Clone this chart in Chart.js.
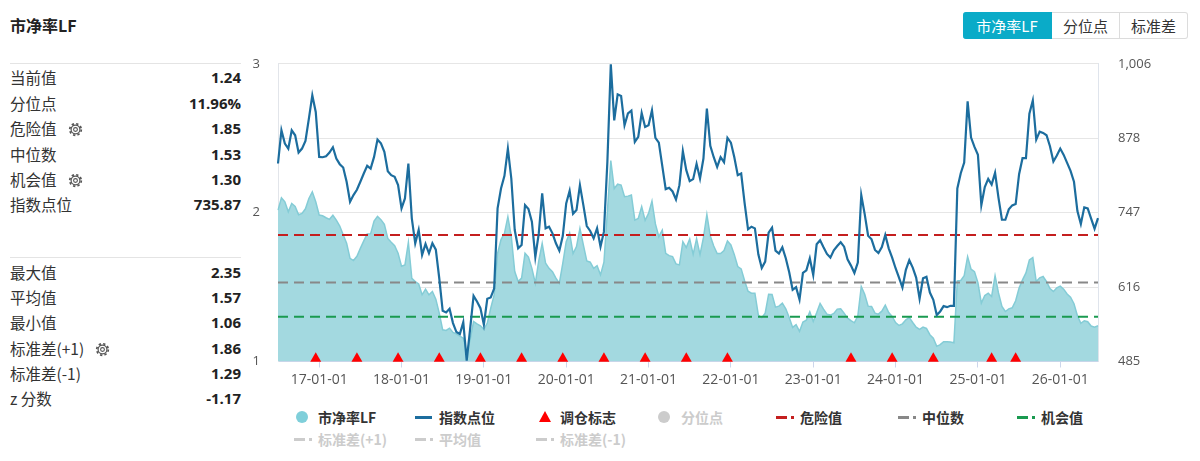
<!DOCTYPE html>
<html>
<head>
<meta charset="utf-8">
<script src="https://cdn.jsdelivr.net/npm/chart.js@4.4.1/dist/chart.umd.min.js"></script>
<style>
html,body{margin:0;padding:0;background:#fff;}
body{width:1200px;height:461px;position:relative;overflow:hidden;font-family:"Noto Sans CJK SC","Noto Sans",sans-serif;color:#333;}
#title{position:absolute;left:10px;top:12px;font-size:16px;font-weight:bold;color:#222;line-height:26px;}
.sep{position:absolute;left:10px;width:231px;height:0;border-top:1.5px solid #e4e4e4;}
.row{position:absolute;left:10px;width:231px;height:22px;line-height:22px;font-size:15.5px;}
.row .lab{position:absolute;left:0;top:0;white-space:nowrap;color:#333;}
.row .val{position:absolute;right:0;top:0;font-weight:bold;color:#222;font-family:"Open Sans","Noto Sans",sans-serif;font-size:15px;}
.gear{display:inline-block;vertical-align:-2px;margin-left:11px;}
#btns{position:absolute;left:963px;top:12px;height:27px;display:flex;}
#btns div{height:25px;line-height:25px;font-size:15px;text-align:center;border:1px solid #dcdcdc;border-left:none;color:#333;}
#btns div.on{background:#0aabc8;color:#fff;border-color:#0aabc8;border-radius:3px 0 0 3px;}
#btns div.last{border-radius:0 3px 3px 0;}
#c{position:absolute;left:240px;top:36px;}
.li{position:absolute;display:block;}
.lt{position:absolute;font-size:14px;font-weight:bold;color:#333;line-height:20px;white-space:nowrap;}
.grey{color:#cccccc;}
</style>
</head>
<body>
<div id="title">市净率LF</div>
<div id="panel"></div>
<div id="btns"><div class="on" style="width:88px">市净率LF</div><div style="width:67px">分位点</div><div class="last" style="width:67px">标准差</div></div>
<canvas id="c" width="940" height="364"></canvas>

<!-- legend row 1 -->
<span class="li" style="left:296px;top:411px;width:12px;height:12px;border-radius:50%;background:#7fcfda"></span>
<span class="lt" style="left:318px;top:407px">市净率LF</span>
<span class="li" style="left:415px;top:416px;width:17px;height:3px;background:#1c6d9e"></span>
<span class="lt" style="left:439px;top:407px">指数点位</span>
<span class="li" style="left:539px;top:411px;width:0;height:0;border-left:6px solid transparent;border-right:6px solid transparent;border-bottom:11px solid #f00"></span>
<span class="lt" style="left:560px;top:407px">调仓标志</span>
<span class="li" style="left:658px;top:411px;width:12px;height:12px;border-radius:50%;background:#cccccc"></span>
<span class="lt grey" style="left:681px;top:407px">分位点</span>
<span class="li" style="left:776px;top:416px;width:11px;height:2.5px;background:#c41f1f"></span>
<span class="li" style="left:791px;top:416px;width:3px;height:2.5px;background:#c41f1f"></span>
<span class="lt" style="left:800px;top:407px">危险值</span>
<span class="li" style="left:898px;top:416px;width:11px;height:2.5px;background:#888"></span>
<span class="li" style="left:913px;top:416px;width:3px;height:2.5px;background:#888"></span>
<span class="lt" style="left:922px;top:407px">中位数</span>
<span class="li" style="left:1017px;top:416px;width:11px;height:2.5px;background:#1a9a50"></span>
<span class="li" style="left:1032px;top:416px;width:3px;height:2.5px;background:#1a9a50"></span>
<span class="lt" style="left:1041px;top:407px">机会值</span>
<!-- legend row 2 -->
<span class="li" style="left:294px;top:438px;width:11px;height:2.5px;background:#ccc"></span>
<span class="li" style="left:309px;top:438px;width:3px;height:2.5px;background:#ccc"></span>
<span class="lt grey" style="left:318px;top:429px">标准差(+1)</span>
<span class="li" style="left:415px;top:438px;width:11px;height:2.5px;background:#ccc"></span>
<span class="li" style="left:430px;top:438px;width:3px;height:2.5px;background:#ccc"></span>
<span class="lt grey" style="left:439px;top:429px">平均值</span>
<span class="li" style="left:536px;top:438px;width:11px;height:2.5px;background:#ccc"></span>
<span class="li" style="left:551px;top:438px;width:3px;height:2.5px;background:#ccc"></span>
<span class="lt grey" style="left:560px;top:429px">标准差(-1)</span>

<script>
// ---------- DATA ----------
const dates = [
'2016-07-01','2016-07-16','2016-08-01','2016-08-16','2016-09-01','2016-09-16','2016-10-01','2016-10-16','2016-11-01','2016-11-16','2016-12-01','2016-12-16',
'2017-01-01','2017-01-16','2017-02-01','2017-02-16','2017-03-01','2017-03-16','2017-04-01','2017-04-16','2017-05-01','2017-05-16','2017-06-01','2017-06-16',
'2017-07-01','2017-07-16','2017-08-01','2017-08-16','2017-09-01','2017-09-16','2017-10-01','2017-10-16','2017-11-01','2017-11-16','2017-12-01','2017-12-16',
'2018-01-01','2018-01-16','2018-02-01','2018-02-16','2018-03-01','2018-03-16','2018-04-01','2018-04-16','2018-05-01','2018-05-16','2018-06-01','2018-06-16',
'2018-07-01','2018-07-16','2018-08-01','2018-08-16','2018-09-01','2018-09-16','2018-10-01','2018-10-16','2018-11-01','2018-11-16','2018-12-01','2018-12-16',
'2019-01-01','2019-01-16','2019-02-01','2019-02-16','2019-03-01','2019-03-16','2019-04-01','2019-04-16','2019-05-01','2019-05-16','2019-06-01','2019-06-16',
'2019-07-01','2019-07-16','2019-08-01','2019-08-16','2019-09-01','2019-09-16','2019-10-01','2019-10-16','2019-11-01','2019-11-16','2019-12-01','2019-12-16',
'2020-01-01','2020-01-16','2020-02-01','2020-02-16','2020-03-01','2020-03-16','2020-04-01','2020-04-16','2020-05-01','2020-05-16','2020-06-01','2020-06-16',
'2020-07-01','2020-07-16','2020-08-01','2020-08-16','2020-09-01','2020-09-16','2020-10-01','2020-10-16','2020-11-01','2020-11-16','2020-12-01','2020-12-16',
'2021-01-01','2021-01-16','2021-02-01','2021-02-16','2021-03-01','2021-03-16','2021-04-01','2021-04-16','2021-05-01','2021-05-16','2021-06-01','2021-06-16',
'2021-07-01','2021-07-16','2021-08-01','2021-08-16','2021-09-01','2021-09-16','2021-10-01','2021-10-16','2021-11-01','2021-11-16','2021-12-01','2021-12-16',
'2022-01-01','2022-01-16','2022-02-01','2022-02-16','2022-03-01','2022-03-16','2022-04-01','2022-04-16','2022-05-01','2022-05-16','2022-06-01','2022-06-16',
'2022-07-01','2022-07-16','2022-08-01','2022-08-16','2022-09-01','2022-09-16','2022-10-01','2022-10-16','2022-11-01','2022-11-16','2022-12-01','2022-12-16',
'2023-01-01','2023-01-16','2023-02-01','2023-02-16','2023-03-01','2023-03-16','2023-04-01','2023-04-16','2023-05-01','2023-05-16','2023-06-01','2023-06-16',
'2023-07-01','2023-07-16','2023-08-01','2023-08-16','2023-09-01','2023-09-16','2023-10-01','2023-10-16','2023-11-01','2023-11-16','2023-12-01','2023-12-16',
'2024-01-01','2024-01-16','2024-02-01','2024-02-16','2024-03-01','2024-03-16','2024-04-01','2024-04-16','2024-05-01','2024-05-16','2024-06-01','2024-06-16',
'2024-07-01','2024-07-16','2024-08-01','2024-08-16','2024-09-01','2024-09-16','2024-10-01','2024-10-16','2024-11-01','2024-11-16','2024-12-01','2024-12-16',
'2025-01-01','2025-01-16','2025-02-01','2025-02-16','2025-03-01','2025-03-16','2025-04-01','2025-04-16','2025-05-01','2025-05-16','2025-06-01','2025-06-16',
'2025-07-01','2025-07-16','2025-08-01','2025-08-16','2025-09-01','2025-09-16','2025-10-01','2025-10-16','2025-11-01','2025-11-16','2025-12-01','2025-12-16',
'2026-01-01','2026-01-16','2026-02-01','2026-02-16','2026-03-01','2026-03-16','2026-04-01','2026-04-16','2026-05-01','2026-05-16','2026-06-01','2026-06-16'
];

// 市净率LF (left axis)
const pbValues = [
2.017,2.100,2.073,2.006,2.062,2.042,1.986,1.995,2.026,2.095,2.140,2.073,
1.984,1.979,1.966,1.955,1.982,1.950,1.910,1.852,1.794,1.693,1.678,1.707,
1.760,1.810,1.857,1.859,1.944,1.975,1.953,1.921,1.827,1.801,1.778,1.727,
1.640,1.649,1.801,1.559,1.537,1.521,1.448,1.486,1.448,1.470,1.419,1.325,
1.213,1.209,1.224,1.195,1.186,1.171,1.157,1.060,1.146,1.269,1.253,1.240,
1.216,1.258,1.358,1.448,1.727,1.819,1.861,1.973,1.839,1.604,1.537,1.560,
1.727,1.702,1.626,1.526,1.676,1.794,1.660,1.626,1.604,1.560,1.526,1.660,
1.805,1.863,1.725,1.772,1.894,1.783,1.676,1.667,1.626,1.644,1.582,1.667,
2.006,2.350,2.162,2.191,2.185,2.107,2.111,2.118,1.950,1.961,2.040,1.948,
1.995,2.078,1.924,1.839,1.883,1.727,1.711,1.705,1.656,1.649,1.805,1.765,
1.823,1.720,1.825,1.718,1.832,1.988,1.843,1.776,1.725,1.725,1.745,1.810,
1.783,1.718,1.638,1.622,1.542,1.472,1.459,1.459,1.312,1.294,1.325,1.452,
1.450,1.365,1.372,1.392,1.354,1.296,1.229,1.247,1.202,1.265,1.278,1.334,
1.269,1.327,1.390,1.352,1.318,1.312,1.323,1.352,1.354,1.325,1.291,1.274,
1.260,1.307,1.504,1.452,1.372,1.370,1.325,1.318,1.338,1.378,1.329,1.303,
1.262,1.242,1.253,1.280,1.296,1.262,1.231,1.216,1.231,1.222,1.180,1.157,
1.102,1.113,1.133,1.133,1.131,1.126,1.542,1.544,1.577,1.705,1.620,1.604,
1.530,1.392,1.443,1.459,1.437,1.577,1.461,1.370,1.336,1.354,1.361,1.408,
1.493,1.548,1.595,1.682,1.698,1.537,1.562,1.571,1.537,1.490,1.470,1.495,
1.506,1.486,1.454,1.432,1.388,1.307,1.256,1.274,1.267,1.238,1.231,1.240
];

// 指数点位 (right axis)
const indexValues = [
831.5,889.6,866.4,857.6,889.6,880.9,850.7,857.6,871.0,910.0,950.7,921.6,
843.1,842.5,844.3,850.7,860.0,840.2,830.3,824.5,799.5,764.6,776.2,785.5,
799.5,814.0,827.4,822.7,843.1,873.3,866.9,851.8,818.1,811.1,808.2,793.6,
752.9,770.4,831.5,735.5,691.8,715.1,671.5,690.7,674.4,691.8,680.8,630.7,
573.7,570.8,577.2,552.2,536.5,533.0,553.9,486.5,542.3,599.9,590.0,578.4,
549.3,594.7,597.0,612.7,752.9,787.8,809.9,857.6,805.3,715.1,683.1,688.9,
758.7,751.8,729.6,668.0,708.7,779.1,718.0,720.9,709.3,691.8,679.0,704.6,
761.6,783.8,743.6,750.0,793.6,758.7,722.1,713.4,700.6,718.0,686.0,712.2,
834.4,1005.0,907.1,952.5,949.6,898.4,919.3,924.0,869.3,878.0,919.9,895.5,
898.4,924.5,876.3,868.1,827.4,786.7,789.0,782.6,768.6,793.6,853.0,819.8,
800.6,804.1,830.9,805.3,840.2,927.5,862.3,842.5,825.6,842.5,833.8,876.3,
868.1,842.5,811.1,814.0,762.2,716.3,720.9,718.0,672.6,648.8,659.8,710.4,
719.2,679.0,673.8,684.8,665.7,641.2,610.4,615.0,593.5,640.0,644.7,665.7,
636.6,690.1,697.1,684.8,673.2,666.8,679.6,687.2,693.6,686.0,663.9,652.8,
640.0,658.1,776.2,743.0,705.2,698.8,680.2,675.0,685.4,706.4,683.1,666.8,
648.2,631.9,614.4,645.3,662.2,649.4,631.9,594.7,630.7,633.1,605.7,592.9,
566.2,572.6,581.9,580.1,582.5,582.5,787.8,814.6,833.2,940.2,876.8,860.6,
846.6,758.7,790.2,804.7,794.8,815.2,771.5,733.1,733.1,751.2,758.2,760.5,
812.8,840.8,840.8,918.7,942.0,873.3,887.3,885.0,880.9,861.7,835.0,845.4,
857.6,846.6,832.6,818.7,799.5,748.3,725.6,754.7,752.9,734.9,717.4,735.87
];

// 调仓标志 dates
const signalDates = ['2016-12-16','2017-06-16','2017-12-16','2018-06-16','2018-12-16','2019-06-16','2019-12-16','2020-06-16',
  '2020-12-16','2021-06-16','2021-12-16','2023-06-16','2023-12-16','2024-06-16','2025-03-01','2025-06-16'];

const dangerValue = 1.85;
const medianValue = 1.53;
const chanceValue = 1.30;

const leftTicks = [1, 2, 3];
const rightTickLabels = ['485', '616', '747', '878', '1,006'];
const rightMin = 485, rightMax = 1006;

const statLabelsTop = ['当前值', '分位点', '危险值', '中位数', '机会值', '指数点位'];
const statValuesTop = ['1.24', '11.96%', '1.85', '1.53', '1.30', '735.87'];
const statGearTop = [false, false, true, false, true, false];
const statLabelsBottom = ['最大值', '平均值', '最小值', '标准差(+1)', '标准差(-1)', 'z 分数'];
const statValuesBottom = ['2.35', '1.57', '1.06', '1.86', '1.29', '-1.17'];
const statGearBottom = [false, false, false, true, false, false];

// ---------- LEFT PANEL ----------
const gearSvg = '<svg class="gear" width="15" height="15" viewBox="0 0 15 15"><circle cx="7.5" cy="7.5" r="4.4" fill="none" stroke="#555" stroke-width="1.2"/><circle cx="7.5" cy="7.5" r="5.8" fill="none" stroke="#555" stroke-width="1.7" stroke-dasharray="2.3 2.25"/><circle cx="7.5" cy="7.5" r="1.9" fill="none" stroke="#555" stroke-width="1.1"/></svg>';
const panel = document.getElementById('panel');
function addSep(y) { const d = document.createElement('div'); d.className = 'sep'; d.style.top = y + 'px'; panel.appendChild(d); }
function addRows(labels, values, gears, firstCenter, pitch) {
  labels.forEach((lab, k) => {
    const r = document.createElement('div');
    r.className = 'row';
    r.style.top = (firstCenter + k * pitch - 11) + 'px';
    r.innerHTML = '<span class="lab">' + lab + (gears[k] ? gearSvg : '') + '</span><span class="val">' + values[k] + '</span>';
    panel.appendChild(r);
  });
}
addSep(62.5);
addRows(statLabelsTop, statValuesTop, statGearTop, 77.3, 25.4);
addSep(257);
addRows(statLabelsBottom, statValuesBottom, statGearBottom, 271.7, 25.3);

// ---------- CHART ----------
const tickFont = { family: '"Open Sans","Noto Sans",sans-serif', size: 13 };
const flat = v => dates.map(() => v);

new Chart(document.getElementById('c'), {
  type: 'line',
  data: {
    labels: dates,
    datasets: [
      { label: '调仓标志', data: signalDates.map(d => ({ x: d, y: 1.02 })), showLine: false,
        pointStyle: 'triangle', pointRadius: 6.3, backgroundColor: '#ff0000', borderColor: '#ff0000', borderWidth: 0,
        yAxisID: 'y', order: 0, clip: false },
      { label: '指数点位', data: indexValues, borderColor: '#1c6d9e', borderWidth: 2.2, pointRadius: 0,
        fill: false, tension: 0, yAxisID: 'y2', order: 1 },
      { label: '危险值', data: flat(dangerValue), borderColor: '#c41f1f', borderWidth: 2, borderDash: [10, 6],
        pointRadius: 0, fill: false, yAxisID: 'y', order: 2 },
      { label: '中位数', data: flat(medianValue), borderColor: '#888888', borderWidth: 2, borderDash: [10, 6],
        pointRadius: 0, fill: false, yAxisID: 'y', order: 3 },
      { label: '机会值', data: flat(chanceValue), borderColor: '#1a9a50', borderWidth: 2, borderDash: [10, 6],
        pointRadius: 0, fill: false, yAxisID: 'y', order: 4 },
      { label: '市净率LF', data: pbValues, borderColor: '#84ccd6', backgroundColor: '#a3d9e0', borderWidth: 1.5,
        pointRadius: 0, fill: 'start', tension: 0, yAxisID: 'y', order: 5 }
    ]
  },
  options: {
    responsive: false,
    animation: false,
    events: [],
    layout: { padding: { top: 13, left: 0, right: 0, bottom: 0 } },
    plugins: { legend: { display: false }, tooltip: { enabled: false } },
    scales: {
      x: {
        type: 'category', offset: false,
        grid: { drawOnChartArea: false, drawTicks: true, tickLength: 6, color: '#ccd6eb' },
        border: { display: true, color: '#ccd6eb', width: 1 },
        afterBuildTicks: s => { s.ticks = s.ticks.filter(t => dates[t.value].endsWith('-01-01')); },
        ticks: { autoSkip: false, maxRotation: 0, minRotation: 0, padding: 4, color: '#555', font: { family: '"Open Sans","Noto Sans",sans-serif', size: 14 },
          callback: v => dates[v].slice(2) },
        afterFit: s => { s.height = 38.5; }
      },
      y: {
        position: 'left', min: 1, max: 3,
        afterBuildTicks: s => { s.ticks = leftTicks.map(v => ({ value: v })); },
        grid: { drawOnChartArea: false, drawTicks: false },
        border: { display: true, color: '#e2e5ea' },
        ticks: { padding: 18, color: '#555', font: tickFont },
        afterFit: s => { s.width = 38; }
      },
      y2: {
        position: 'right', min: rightMin, max: rightMax,
        afterBuildTicks: s => { s.ticks = rightTickLabels.map((_, k) => ({ value: rightMin + k * (rightMax - rightMin) / (rightTickLabels.length - 1) })); },
        grid: { drawOnChartArea: true, drawTicks: false, color: '#e6e6e6', lineWidth: 1 },
        border: { display: true, color: '#dfe4ec' },
        ticks: { padding: 20, color: '#555', font: tickFont, callback: (v, i) => rightTickLabels[i] },
        afterFit: s => { s.width = 82; }
      }
    }
  }
});
</script>
</body>
</html>
